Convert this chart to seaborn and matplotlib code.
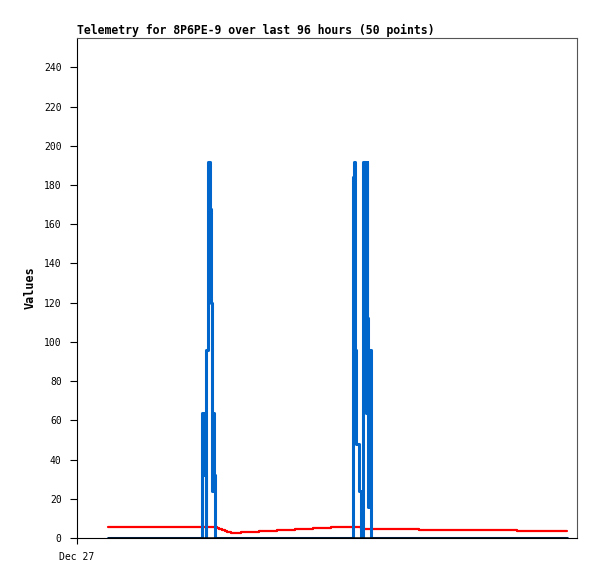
import pandas as pd
import seaborn as sns
import matplotlib.pyplot as plt

# Données (heures depuis le début de la fenêtre)
hours = [0.00, 8.78, 15.06, 19.76, 20.18, 20.43, 20.60, 20.85, 21.33, 21.50,
         21.65, 21.79, 21.96, 22.17, 22.42, 22.80, 23.32, 23.84, 24.37, 24.89,
         25.41, 25.83, 27.82, 31.58, 35.35, 39.11, 42.88, 46.64, 51.14, 51.45,
         51.76, 51.97, 52.60, 52.92, 53.33, 53.65, 53.86, 54.07, 54.27, 54.48,
         54.69, 55.01, 58.98, 65.05, 73.62, 79.90, 85.55, 90.35, 93.49, 96.00]

blue_vals = [0, 0, 0, 64, 32, 0, 96, 192, 168, 120,
             72, 24, 64, 32, 0, 0, 0, 0, 0, 0,
             0, 0, 0, 0, 0, 0, 0, 0, 184, 192,
             96, 48, 24, 0, 192, 160, 64, 192, 112, 16,
             96, 0, 0, 0, 0, 0, 0, 0, 0, 0]

red_vals = [5.8, 5.8, 5.8, 5.8, 5.8, 5.8, 5.8, 5.8, 5.8, 5.8,
            5.8, 5.8, 5.8, 5.8, 5.8, 5.3, 4.8, 4.3, 3.8, 3.3,
            2.9, 2.7, 3.3, 3.8, 4.3, 4.8, 5.3, 5.8, 5.8, 5.8,
            5.8, 5.8, 5.8, 4.75, 4.75, 4.75, 4.75, 4.75, 4.75, 4.75,
            4.75, 4.75, 4.75, 4.2, 4.2, 4.2, 3.7, 3.7, 3.7, 3.7]

black_vals = [0] * len(hours)

y_ticks = [0, 20, 40, 60, 80, 100, 120, 140, 160, 180, 200, 220, 240]
x_tick_label = "Dec 27"
title = "Telemetry for 8P6PE-9 over last 96 hours (50 points)"

df = pd.DataFrame({"hours": hours, "blue": blue_vals, "red": red_vals, "black": black_vals})

sns.set_style("white")
plt.rcParams["font.family"] = ["DejaVu Sans Mono", "DejaVu Sans"]
plt.rcParams["text.color"] = "black"
plt.rcParams["axes.labelcolor"] = "black"
plt.rcParams["xtick.color"] = "black"
plt.rcParams["ytick.color"] = "black"

fig = plt.figure(figsize=(5.97, 5.79), dpi=100)
ax = fig.add_axes([77 / 597, 1 - 538 / 579, 500 / 597, 500 / 579])

sns.lineplot(data=df, x="hours", y="red", color="#ff0000", linewidth=1.6,
             drawstyle="steps-post", ax=ax, zorder=2)
sns.lineplot(data=df, x="hours", y="blue", color="#0066cc", linewidth=2.2,
             drawstyle="steps-post", ax=ax, zorder=3)
sns.lineplot(data=df, x="hours", y="black", color="black", linewidth=1.8,
             drawstyle="steps-post", ax=ax, zorder=4)

x_left = -6.48
ax.set_xlim(x_left, 98.09)
ax.set_ylim(0, 255)
ax.set_xticks([x_left])
ax.set_xticklabels([x_tick_label], fontsize=7)
ax.set_yticks(y_ticks)
ax.set_yticklabels([str(v) for v in y_ticks], fontsize=7)
ax.tick_params(axis="y", left=True, direction="out", length=5, width=0.8,
               colors="black", pad=6)
ax.tick_params(axis="x", bottom=True, direction="out", length=4, width=0.8,
               colors="black", pad=6)

for side in ["left", "bottom"]:
    ax.spines[side].set_color("black")
    ax.spines[side].set_linewidth(0.8)
for side in ["top", "right"]:
    ax.spines[side].set_color("#555555")
    ax.spines[side].set_linewidth(0.8)

ax.set_xlabel("")
ax.set_ylabel("Values", fontsize=8.5, fontweight="bold", labelpad=5)
ax.set_title(title, loc="left", fontsize=8.3, fontweight="bold", pad=3)

fig.savefig("out.png", dpi=100)
